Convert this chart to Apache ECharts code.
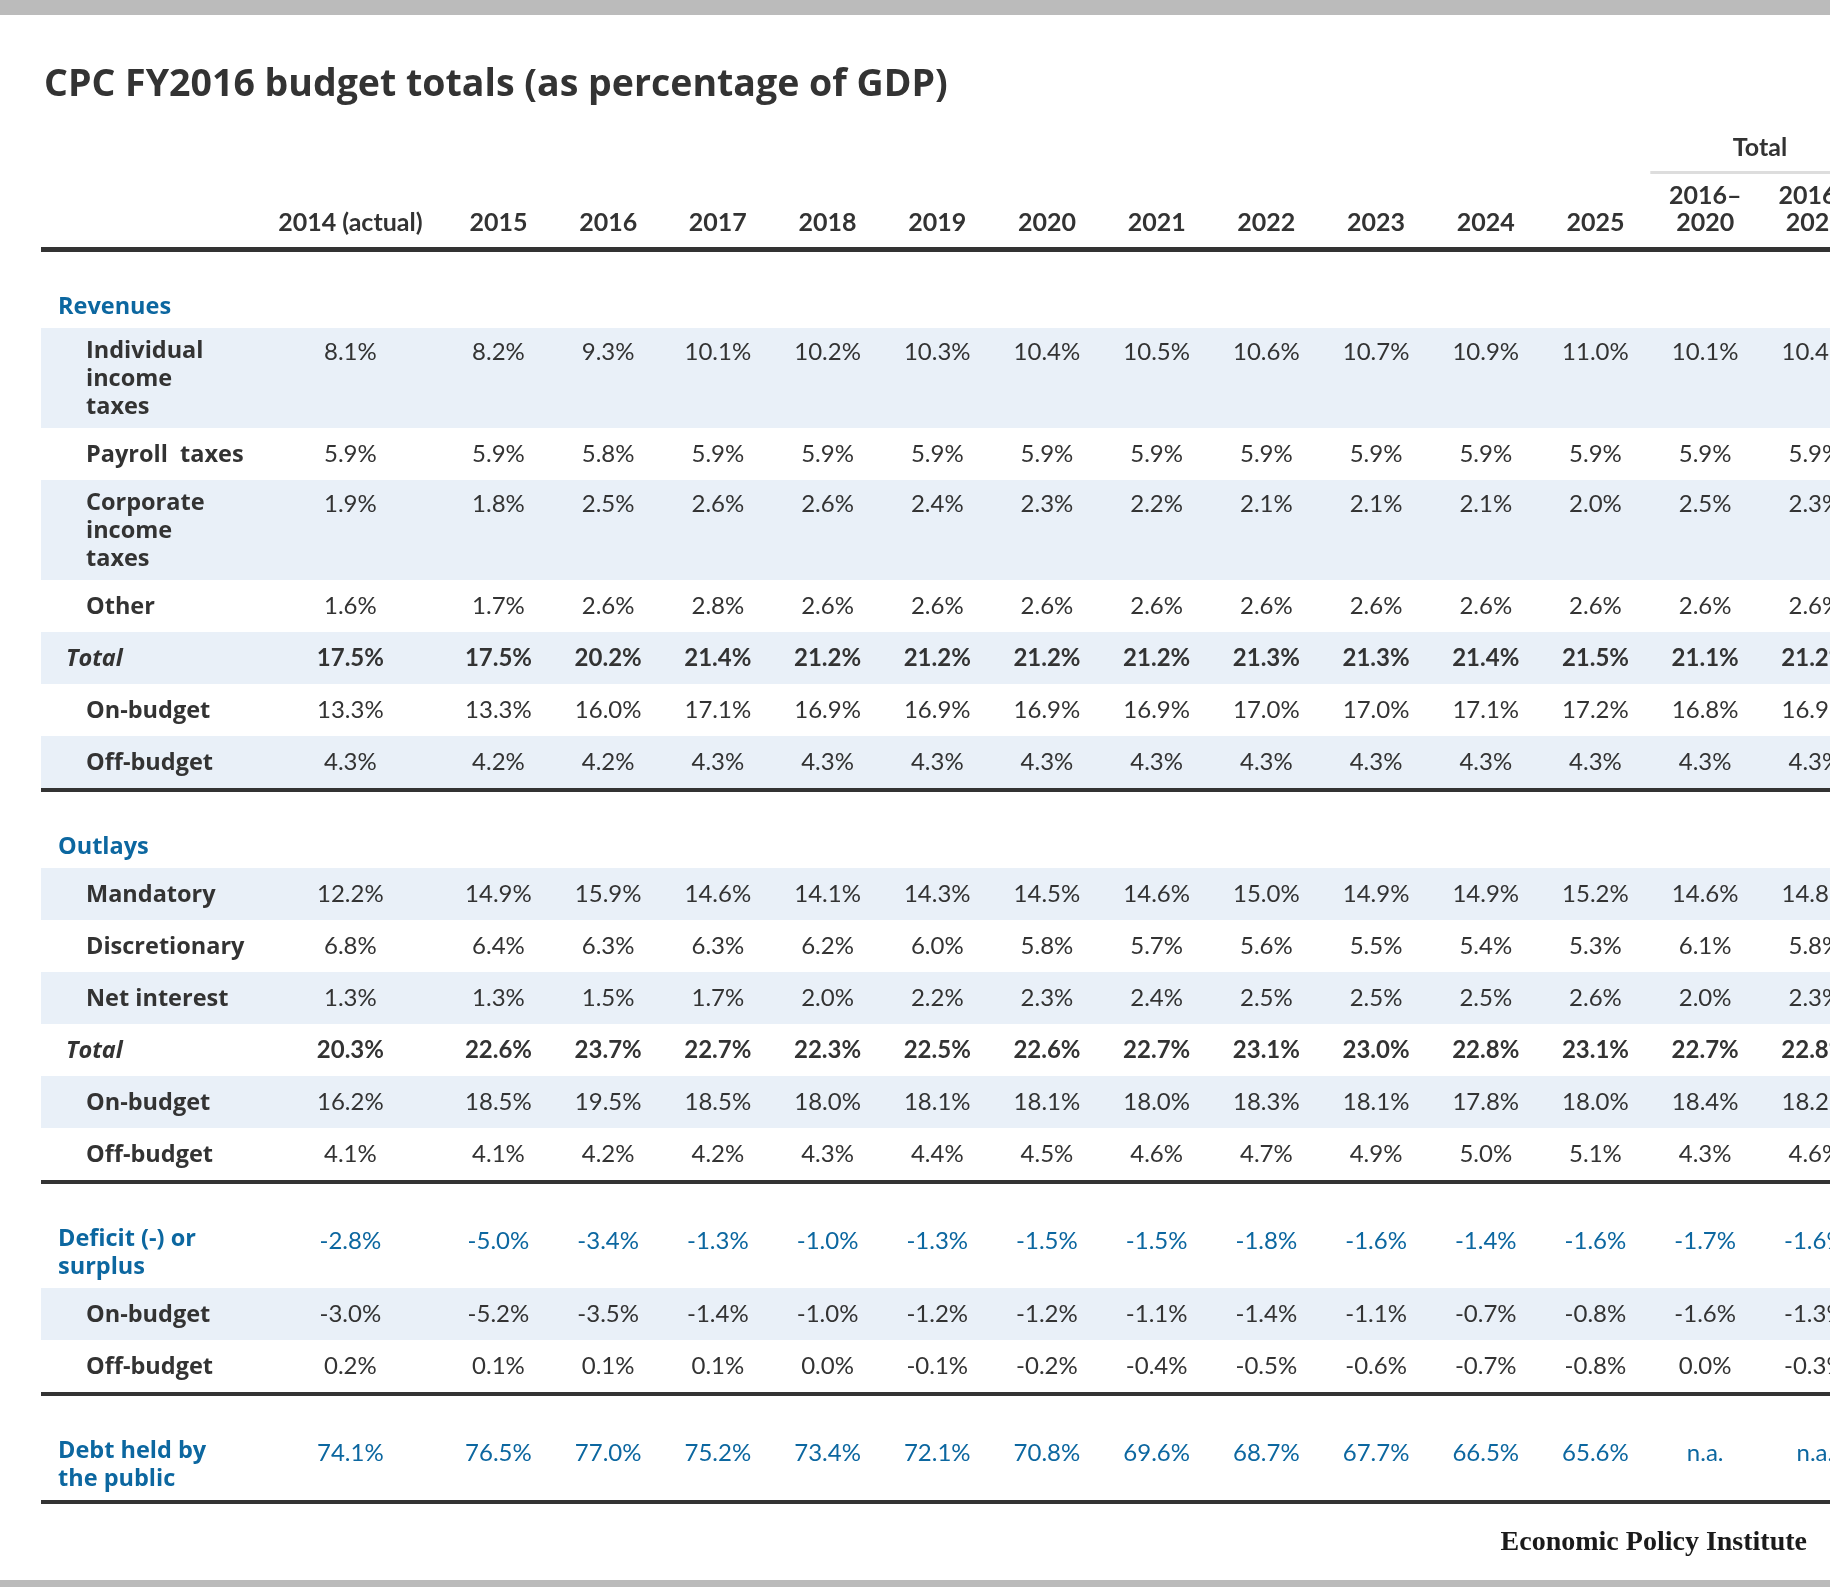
<!DOCTYPE html>
<html>
<head>
<meta charset="utf-8">
<title>CPC FY2016 budget totals</title>
<script src="https://cdn.jsdelivr.net/npm/echarts@6/dist/echarts.min.js"></script>
<style>
  html, body { margin: 0; padding: 0; background: #fff; }
  #chart { width: 1830px; height: 1587px; }
</style>
</head>
<body>
<div id="chart"></div>
<script>
// column heads
var columns = ['2014 (actual)', '2015', '2016', '2017', '2018', '2019', '2020',
  '2021', '2022', '2023', '2024', '2025', '2016–\n2020', '2016–\n2025'];

// revenues
var individualIncome = [8.1, 8.2, 9.3, 10.1, 10.2, 10.3, 10.4, 10.5, 10.6, 10.7, 10.9, 11.0, 10.1, 10.4];
var payrollTaxes = [5.9, 5.9, 5.8, 5.9, 5.9, 5.9, 5.9, 5.9, 5.9, 5.9, 5.9, 5.9, 5.9, 5.9];
var corporateIncome = [1.9, 1.8, 2.5, 2.6, 2.6, 2.4, 2.3, 2.2, 2.1, 2.1, 2.1, 2.0, 2.5, 2.3];
var otherRevenue = [1.6, 1.7, 2.6, 2.8, 2.6, 2.6, 2.6, 2.6, 2.6, 2.6, 2.6, 2.6, 2.6, 2.6];
var revenueTotal = [17.5, 17.5, 20.2, 21.4, 21.2, 21.2, 21.2, 21.2, 21.3, 21.3, 21.4, 21.5, 21.1, 21.2];
var revenueOn = [13.3, 13.3, 16.0, 17.1, 16.9, 16.9, 16.9, 16.9, 17.0, 17.0, 17.1, 17.2, 16.8, 16.9];
var revenueOff = [4.3, 4.2, 4.2, 4.3, 4.3, 4.3, 4.3, 4.3, 4.3, 4.3, 4.3, 4.3, 4.3, 4.3];

// outlays
var mandatory = [12.2, 14.9, 15.9, 14.6, 14.1, 14.3, 14.5, 14.6, 15.0, 14.9, 14.9, 15.2, 14.6, 14.8];
var discretionary = [6.8, 6.4, 6.3, 6.3, 6.2, 6.0, 5.8, 5.7, 5.6, 5.5, 5.4, 5.3, 6.1, 5.8];
var netInterest = [1.3, 1.3, 1.5, 1.7, 2.0, 2.2, 2.3, 2.4, 2.5, 2.5, 2.5, 2.6, 2.0, 2.3];
var outlayTotal = [20.3, 22.6, 23.7, 22.7, 22.3, 22.5, 22.6, 22.7, 23.1, 23.0, 22.8, 23.1, 22.7, 22.8];
var outlayOn = [16.2, 18.5, 19.5, 18.5, 18.0, 18.1, 18.1, 18.0, 18.3, 18.1, 17.8, 18.0, 18.4, 18.2];
var outlayOff = [4.1, 4.1, 4.2, 4.2, 4.3, 4.4, 4.5, 4.6, 4.7, 4.9, 5.0, 5.1, 4.3, 4.6];

// deficit and debt
var deficit = [-2.8, -5.0, -3.4, -1.3, -1.0, -1.3, -1.5, -1.5, -1.8, -1.6, -1.4, -1.6, -1.7, -1.6];
var deficitOn = [-3.0, -5.2, -3.5, -1.4, -1.0, -1.2, -1.2, -1.1, -1.4, -1.1, -0.7, -0.8, -1.6, -1.3];
var deficitOff = [0.2, 0.1, 0.1, 0.1, 0.0, -0.1, -0.2, -0.4, -0.5, -0.6, -0.7, -0.8, 0.0, -0.3];
var debtPublic = [74.1, 76.5, 77.0, 75.2, 73.4, 72.1, 70.8, 69.6, 68.7, 67.7, 66.5, 65.6, null, null];

var rows = [
  { label: 'Revenues', kind: 'section' },
  { label: 'Individual\nincome\ntaxes', kind: 'item', values: individualIncome, band: true },
  { label: 'Payroll  taxes', kind: 'item', values: payrollTaxes },
  { label: 'Corporate\nincome\ntaxes', kind: 'item', values: corporateIncome, band: true },
  { label: 'Other', kind: 'item', values: otherRevenue },
  { label: 'Total', kind: 'total', values: revenueTotal, band: true },
  { label: 'On-budget', kind: 'item', values: revenueOn },
  { label: 'Off-budget', kind: 'item', values: revenueOff, band: true, rule: true },
  { label: 'Outlays', kind: 'section' },
  { label: 'Mandatory', kind: 'item', values: mandatory, band: true },
  { label: 'Discretionary', kind: 'item', values: discretionary },
  { label: 'Net interest', kind: 'item', values: netInterest, band: true },
  { label: 'Total', kind: 'total', values: outlayTotal },
  { label: 'On-budget', kind: 'item', values: outlayOn, band: true },
  { label: 'Off-budget', kind: 'item', values: outlayOff, rule: true },
  { label: 'Deficit (-) or\nsurplus', kind: 'section', values: deficit },
  { label: 'On-budget', kind: 'item', values: deficitOn, band: true },
  { label: 'Off-budget', kind: 'item', values: deficitOff, rule: true },
  { label: 'Debt held by\nthe public', kind: 'section', values: debtPublic, rule: true }
];

// layout
var W = 1830, H = 1587, LEFT = 41, COLW = 109.7;
var XMAX = (W - LEFT) / COLW;
var colX = columns.map(function (c, i) { return i === 0 ? 2.82 : 3.17 + i; });
var FONT = 'Lato, "Open Sans", sans-serif';
var LABEL_FONT = '"Open Sans", Lato, sans-serif';
var DARK = '#333333', BLUE = '#0c67a0', BAND = '#e9f0f8';
var LINE = 28;

var cells = [];   // texts
var decor = [];   // bands and rules

// header
columns.forEach(function (c, i) {
  var parts = c.split('\n');
  parts.forEach(function (p, k) {
    cells.push({ x: colX[i], y: 223 - (parts.length - 1 - k) * 27, text: p, weight: 'bold', color: DARK,
      align: 'center', size: 25 });
  });
});
cells.push({ x: (colX[12] + colX[13]) / 2, y: 148, text: 'Total', weight: 'bold', color: DARK, align: 'center', size: 25 });
decor.push({ x0: colX[12] - 0.5, x1: XMAX, y0: 171, y1: 174, color: '#dddddd' });
decor.push({ x0: 0, x1: XMAX, y0: 247, y1: 252, color: DARK });

var y = 252;
rows.forEach(function (r) {
  var lines = r.label.split('\n');
  var n = lines.length, h, first, valY;
  if (r.kind === 'section') {
    h = 54 + (n - 1) * LINE + 22;
    first = y + 54;
    valY = first + (n > 1 ? 3 : 0);
  } else {
    h = n === 1 ? 52 : 16 + n * LINE;
    first = y + h / 2 - (n - 1) * LINE / 2;
    valY = first + (n > 1 ? 2 : 0);
  }
  if (r.band) decor.push({ x0: 0, x1: XMAX, y0: y, y1: y + h, color: BAND });
  var labelColor = r.kind === 'section' ? BLUE : DARK;
  var dx = r.kind === 'section' ? 17 : (r.kind === 'total' ? 25 : 45);
  lines.forEach(function (t, k) {
    cells.push({ x: 0, dx: dx, y: first + k * LINE + 1.5, text: t, weight: 'bold', family: LABEL_FONT, size: 23.5,
      italic: r.kind === 'total', color: labelColor, align: 'left' });
  });
  if (r.values) {
    r.values.forEach(function (v, i) {
      cells.push({ x: colX[i], y: valY, text: v === null ? 'n.a.' : v.toFixed(1) + '%',
        weight: r.kind === 'total' ? 'bold' : 'normal',
        color: r.kind === 'section' ? BLUE : DARK, align: 'center' });
    });
  }
  y += h;
  if (r.rule) {
    decor.push({ x0: 0, x1: XMAX, y0: y, y1: y + 4, color: DARK });
    y += 4;
  }
});

var chart = echarts.init(document.getElementById('chart'));
chart.setOption({
  animation: false,
  backgroundColor: '#fff',
  title: {
    text: 'CPC FY2016 budget totals (as percentage of GDP)',
    left: 39, top: 61,
    textStyle: { fontFamily: '"Open Sans", Lato, sans-serif', fontSize: 37.5, fontWeight: 'bold', color: DARK }
  },
  grid: { left: LEFT, right: 0, top: 0, bottom: 0 },
  xAxis: { type: 'value', min: 0, max: XMAX, show: false },
  yAxis: { type: 'value', min: 0, max: H, inverse: true, show: false },
  graphic: [
    { type: 'rect', left: 0, top: 0, shape: { width: W, height: 15 }, style: { fill: '#bbbbbb' } },
    { type: 'rect', left: 0, top: 1580, shape: { width: W, height: 7 }, style: { fill: '#bbbbbb' } },
    { type: 'text', right: 23, top: 1529,
      style: { text: 'Economic Policy Institute', fill: '#1a1a1a',
        font: 'bold 28px "Liberation Serif", "DejaVu Serif", serif' } }
  ],
  series: [
    {
      type: 'custom', name: 'decor', silent: true, z: 1,
      data: decor.map(function (d) { return [d.x0, d.y0]; }),
      renderItem: function (params, api) {
        var d = decor[params.dataIndex];
        var p0 = api.coord([d.x0, d.y0]);
        var p1 = api.coord([d.x1, d.y1]);
        return { type: 'rect', shape: { x: p0[0], y: p0[1], width: p1[0] - p0[0], height: p1[1] - p0[1] },
          style: { fill: d.color } };
      }
    },
    {
      type: 'custom', name: 'cells', silent: true, z: 2,
      data: cells.map(function (c) { return [c.x, c.y]; }),
      renderItem: function (params, api) {
        var c = cells[params.dataIndex];
        var p = api.coord([c.x, c.y]);
        return { type: 'text', x: p[0] + (c.dx || 0), y: p[1],
          style: { text: c.text, fill: c.color, fontFamily: c.family || FONT, fontSize: c.size || 24,
            fontWeight: c.weight, fontStyle: c.italic ? 'italic' : 'normal',
            align: c.align, verticalAlign: 'middle' } };
      }
    }
  ]
});
</script>
</body>
</html>
